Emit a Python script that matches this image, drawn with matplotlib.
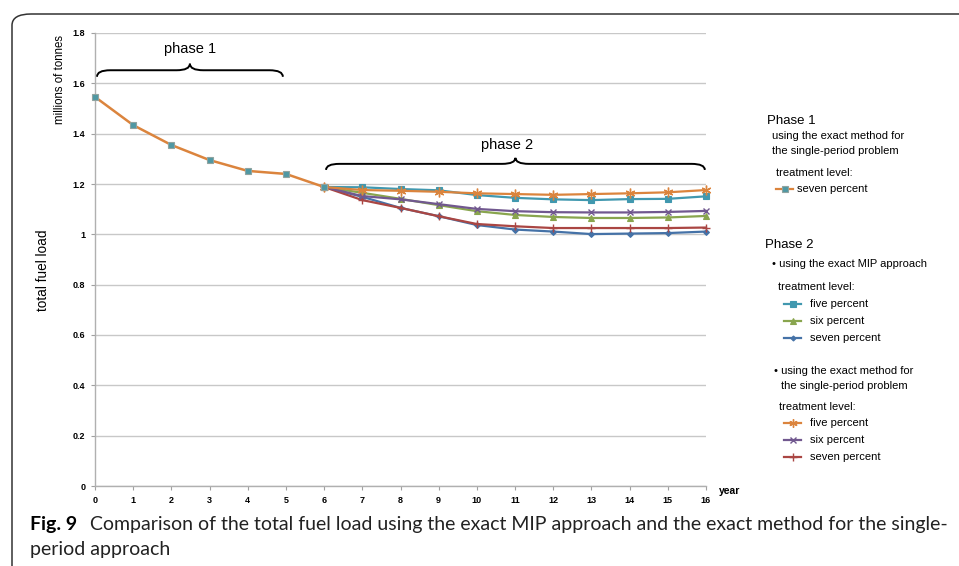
import matplotlib
matplotlib.use("Agg")
import matplotlib.pyplot as plt
from matplotlib.path import Path
from matplotlib.patches import PathPatch, FancyBboxPatch
from matplotlib.lines import Line2D

plt.rcParams['font.family'] = ['Liberation Sans', 'DejaVu Sans']

# phase 1 (years 0-6), shared by all runs
years_p1 = [0, 1, 2, 3, 4, 5, 6]
load_p1 = [1.546, 1.434, 1.355, 1.295, 1.252, 1.240, 1.188]

# phase 2 (years 6-16)
years_p2 = [6, 7, 8, 9, 10, 11, 12, 13, 14, 15, 16]
mip_five = [1.188, 1.187, 1.180, 1.175, 1.156, 1.145, 1.139, 1.136, 1.140, 1.141, 1.151]
mip_six = [1.188, 1.165, 1.141, 1.116, 1.092, 1.077, 1.069, 1.065, 1.065, 1.067, 1.073]
mip_seven = [1.188, 1.149, 1.105, 1.072, 1.037, 1.019, 1.011, 1.001, 1.003, 1.005, 1.011]
sp_five = [1.188, 1.176, 1.173, 1.169, 1.163, 1.160, 1.157, 1.160, 1.163, 1.167, 1.176]
sp_six = [1.188, 1.152, 1.139, 1.120, 1.101, 1.092, 1.088, 1.087, 1.087, 1.089, 1.093]
sp_seven = [1.188, 1.136, 1.105, 1.072, 1.041, 1.032, 1.025, 1.025, 1.025, 1.025, 1.027]

yticks = [0, 0.2, 0.4, 0.6, 0.8, 1, 1.2, 1.4, 1.6, 1.8]
ytick_labels = ["0", "0.2", "0.4", "0.6", "0.8", "1", "1.2", "1.4", "1.6", "1.8"]

BLUE, RED, GREEN, PURPLE, CYAN, ORANGE = "#4572A7", "#AA4643", "#89A54E", "#71588F", "#4198AF", "#DB843D"
ASTER = (6, 2, 0)

styles = {
    "mip_five": dict(color=CYAN, marker="s", ms=5),
    "mip_six": dict(color=GREEN, marker="^", ms=5),
    "mip_seven": dict(color=BLUE, marker="D", ms=3),
    "sp_five": dict(color=ORANGE, marker=ASTER, ms=7, mew=1),
    "sp_six": dict(color=PURPLE, marker="x", ms=5, mew=1),
    "sp_seven": dict(color=RED, marker="+", ms=6, mew=1),
}

W, H = 959, 566
fig = plt.figure(figsize=(W / 100, H / 100), dpi=100)


def fx(px):
    return px / W


def fy(py):
    return 1 - py / H


ax = fig.add_axes([fx(95), fy(486), fx(706) - fx(95), fy(33) - fy(486)])

# rounded outer frame
frame = FancyBboxPatch((fx(12), fy(600)), fx(1000) - fx(12), fy(14) - fy(600),
                       boxstyle="round,pad=0,rounding_size=0.02",
                       transform=fig.transFigure, fill=False,
                       edgecolor="#333333", lw=1.1, clip_on=False)
fig.patches.append(frame)

for key, yv in [("mip_seven", mip_seven), ("mip_six", mip_six), ("mip_five", mip_five),
                ("sp_seven", sp_seven), ("sp_six", sp_six), ("sp_five", sp_five)]:
    st = styles[key]
    ax.plot(years_p2, yv, color=st["color"], lw=1.6, marker=st["marker"],
            ms=st["ms"], mew=st.get("mew", 0.8), clip_on=False, zorder=3)

ax.plot(years_p1, load_p1, color=ORANGE, lw=1.8, marker="s", ms=5,
        mfc="#4f98a3", mec="#8fa3a0", mew=0.8, clip_on=False, zorder=4)

ax.set_xlim(0, 16)
ax.set_ylim(0, 1.8)
ax.set_xticks(range(17))
ax.set_xticklabels([str(i) for i in range(17)], fontsize=6.5, fontweight="bold")
ax.set_yticks(yticks)
ax.set_yticklabels(ytick_labels, fontsize=6.5, fontweight="bold")
ax.tick_params(axis="both", length=3, color="#a0a0a0", pad=4)
ax.grid(axis="y", color="#c8c8c8", lw=1)
ax.set_axisbelow(True)
for s in ["top", "right"]:
    ax.spines[s].set_visible(False)
for s in ["left", "bottom"]:
    ax.spines[s].set_color("#b0b0b0")
    ax.spines[s].set_linewidth(1)


def brace(x0, x1, y, h, w):
    xm = (x0 + x1) / 2
    verts = [(x0, y - h), (x0, y), (x0 + w, y),
             (xm - w, y), (xm, y), (xm, y + h),
             (xm, y), (xm + w, y),
             (x1 - w, y), (x1, y), (x1, y - h)]
    codes = [Path.MOVETO, Path.CURVE3, Path.CURVE3,
             Path.LINETO, Path.CURVE3, Path.CURVE3,
             Path.CURVE3, Path.CURVE3,
             Path.LINETO, Path.CURVE3, Path.CURVE3]
    ax.add_patch(PathPatch(Path(verts, codes), fill=False, lw=1.4,
                           edgecolor="black", clip_on=False))


brace(0.05, 4.92, 1.652, 0.026, 0.35)
brace(6.05, 15.97, 1.280, 0.024, 0.35)
ax.text(2.49, 1.736, "phase 1", ha="center", va="center", fontsize=10.5)
ax.text(10.79, 1.355, "phase 2", ha="center", va="center", fontsize=10.5)

# axis titles
fig.text(fx(60), fy(80), "millions of tonnes", rotation=90, ha="center", va="center", fontsize=8.3)
fig.text(fx(43), fy(270), "total fuel load", rotation=90, ha="center", va="center", fontsize=9.8)
fig.text(fx(719), fy(491), "year", ha="left", va="center", fontsize=7.5, fontweight="bold")

# right-hand legend
def handle(x0, x1, y, color, marker, ms, mew=0.8, mfc=None, mec=None):
    fig.add_artist(Line2D([fx(x0), fx(x1)], [fy(y), fy(y)], color=color, lw=1.6,
                          transform=fig.transFigure))
    fig.add_artist(Line2D([fx((x0 + x1) / 2)], [fy(y)], color=color, marker=marker,
                          ms=ms, mew=mew, mfc=mfc or color, mec=mec or color,
                          transform=fig.transFigure))


def t(x, y, s, size=8):
    fig.text(fx(x), fy(y), s, ha="left", va="center", fontsize=size)


t(767, 121, "Phase 1", 9.5)
t(772, 136, "using the exact method for")
t(772, 151, "the single-period problem")
t(776, 173, "treatment level:")
handle(776, 793, 189, ORANGE, "s", 4.5, mfc="#4f98a3", mec="#8fa3a0")
t(797, 189, "seven percent")

t(765, 245, "Phase 2", 9.5)
t(772, 264, "\u2022 using the exact MIP approach")
t(778, 287, "treatment level:")
legend_mip = [("five percent", "mip_five", 304), ("six percent", "mip_six", 321),
              ("seven percent", "mip_seven", 338)]
for label, key, y in legend_mip:
    st = styles[key]
    handle(784, 801, y, st["color"], st["marker"], st["ms"] * 0.85, st.get("mew", 0.8))
    t(810, y, label)

t(774, 371, "\u2022 using the exact method for")
t(781, 386, "the single-period problem")
t(779, 407, "treatment level:")
legend_sp = [("five percent", "sp_five", 423), ("six percent", "sp_six", 440),
             ("seven percent", "sp_seven", 457)]
for label, key, y in legend_sp:
    st = styles[key]
    handle(784, 801, y, st["color"], st["marker"], st["ms"] * 0.85, st.get("mew", 0.8))
    t(810, y, label)

# caption
cap_font = ["Lato", "DejaVu Sans"]
fig.text(fx(30), fy(530), "Fig. 9", ha="left", va="baseline", fontsize=14,
         fontweight="bold", family=cap_font)
fig.text(fx(90), fy(530),
         "Comparison of the total fuel load using the exact MIP approach and the exact method for the single-",
         ha="left", va="baseline", fontsize=14, family=cap_font, color="#222222")
fig.text(fx(30), fy(555), "period approach", ha="left", va="baseline", fontsize=14,
         family=cap_font, color="#222222")

fig.savefig("out.png", dpi=100)
